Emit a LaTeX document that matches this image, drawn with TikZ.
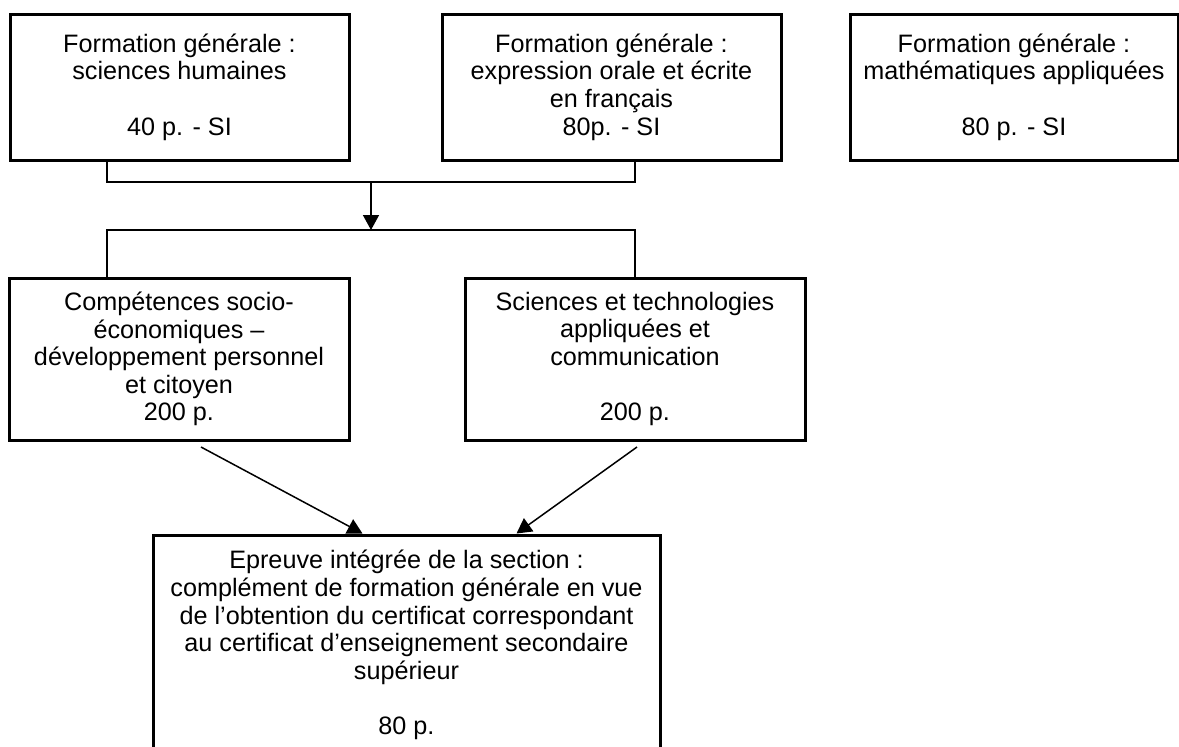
\documentclass[tikz,border=0pt]{standalone}
\usepackage{fontspec}
\setmainfont{Liberation Sans}
\usetikzlibrary{arrows.meta,positioning,calc}

\begin{document}
\begin{tikzpicture}[x=0.5pt,y=-0.5pt,
 every node/.style={font=\fontsize{12.6}{13.8}\selectfont},
 bloc/.style={draw,line width=1.5pt,align=center,inner sep=0pt,minimum height=73pt,minimum width=169.5pt},
 lien/.style={line width=0.75pt},
 fleche/.style={lien,-{Triangle[length=7.5pt,width=8pt]}}]
\useasboundingbox (0,0) rectangle (1179,746);
\node[bloc] (b1) at (179.5,87) {Formation générale :\\sciences humaines\\ ~\\40 p. - SI};
\node[bloc] (b2) at (611.5,87) {Formation générale :\\expression orale et écrite\\en français\\80p. - SI};
\node[bloc,minimum width=164pt] (b3) at (1014,87) {Formation générale :\\mathématiques appliquées\\ ~\\80 p. - SI};
\node[bloc,minimum width=170pt,minimum height=81pt] (b4) at (179,359) {Compétences socio-\\économiques –\\développement personnel\\et citoyen\\200 p.};
\node[bloc,minimum width=170pt,minimum height=81pt] (b5) at (635,359) {Sciences et technologies\\appliquées et\\communication\\ ~\\200 p.};
\node[bloc,minimum width=253.5pt,minimum height=110pt] (b6) at (406.5,645) {Epreuve intégrée de la section :\\complément de formation générale en vue\\de l’obtention du certificat correspondant\\au certificat d’enseignement secondaire\\supérieur\\ ~\\80 p.};
\coordinate (g1) at (107,182); \coordinate (g2) at (635,182);
\coordinate (g3) at (371,182); \coordinate (g4) at (371,230);
\coordinate (g5) at (107,230); \coordinate (g6) at (635,230);
\coordinate (d1) at (201,447); \coordinate (d2) at (637,447);
\draw[lien] (b1.south -| g1) -- (g1) -- (g2) -- (b2.south -| g2);
\draw[fleche] (g3) -- (g4);
\draw[lien] (b4.north -| g5) -- (g5) -- (g6) -- (b5.north);
\draw[fleche] (d1) -- ([xshift=-22pt]b6.north);
\draw[fleche] (d2) -- ([xshift=55pt]b6.north);
\end{tikzpicture}
\end{document}
